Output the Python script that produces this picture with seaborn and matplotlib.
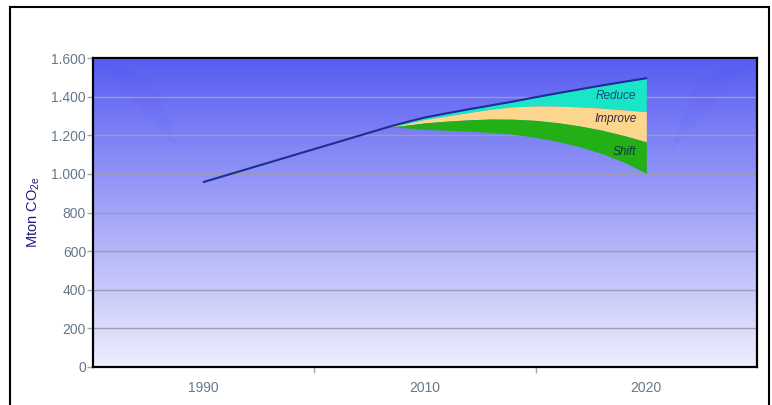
import numpy as np
import pandas as pd
import matplotlib
matplotlib.use("Agg")
import matplotlib.pyplot as plt
from matplotlib.patches import Rectangle, Polygon
from matplotlib.ticker import FuncFormatter
import seaborn as sns

# Emission path (Mton CO2e)
years_hist = [1990, 2007, 2008, 2009, 2010, 2011, 2012, 2013, 2014, 2015,
              2016, 2017, 2018, 2019, 2020]
baseline = [958, 1248, 1263, 1278, 1292, 1314, 1335, 1355, 1375, 1397,
            1418, 1438, 1458, 1477, 1495]

# Reduction wedges below the baseline path
years_wedge = [2007, 2008, 2009, 2010, 2011, 2012, 2013, 2014, 2015, 2016,
               2017, 2018, 2019, 2020]
wedge_top = [1248, 1263, 1278, 1292, 1314, 1335, 1355, 1375, 1397, 1418,
             1438, 1458, 1477, 1495]
reduce_low = [1246, 1256, 1269, 1282, 1300, 1318, 1335, 1347, 1352, 1351,
              1347, 1340, 1331, 1322]
improve_low = [1244, 1250, 1257, 1264, 1273, 1280, 1284, 1283, 1277, 1265,
               1248, 1226, 1198, 1166]
shift_low = [1243, 1239, 1235, 1230, 1226, 1221, 1214, 1205, 1189, 1168,
             1140, 1105, 1060, 1003]

wedge_names = ["Reduce", "Improve", "Shift"]
wedge_label_pos = [(2018.6, 1405), (2018.6, 1285), (2019.0, 1112)]

x_labels = [1990, 2010, 2020]
y_ticks = [0, 200, 400, 600, 800, 1000, 1200, 1400, 1600]

sns.set_theme(style="white")
plt.rcParams["font.family"] = ["Liberation Sans", "DejaVu Sans"]
plt.rcParams["mathtext.fontset"] = "custom"
plt.rcParams["mathtext.rm"] = "Liberation Sans"
plt.rcParams["mathtext.it"] = "Liberation Sans:italic"

fig = plt.figure(figsize=(7.72, 4.05), dpi=100)
fig.patch.set_facecolor("white")
ax = fig.add_axes([93 / 772, 38 / 405, 664 / 772, 309 / 405])

# vertical gradient background
grad = np.linspace(0, 1, 256)[:, None]
top_c = np.array([88, 92, 242]) / 255
bot_c = np.array([238, 238, 253]) / 255
img = top_c[None, None, :] * (1 - grad[:, :, None]) + bot_c[None, None, :] * grad[:, :, None]
img = np.repeat(img, 4, axis=1)
ax.imshow(img, extent=[0, 1, 0, 1], transform=ax.transAxes, aspect="auto",
          zorder=0, interpolation="bilinear")
# faint glare in the upper corners
ax.add_patch(Polygon([[0.0, 1.0], [0.09, 0.93], [0.13, 0.70]], closed=True,
                     transform=ax.transAxes, facecolor="#4a4af0", alpha=0.06,
                     edgecolor="none", zorder=0.5))
ax.add_patch(Polygon([[1.0, 1.0], [0.91, 0.93], [0.87, 0.70]], closed=True,
                     transform=ax.transAxes, facecolor="#4a4af0", alpha=0.06,
                     edgecolor="none", zorder=0.5))

for y in y_ticks[1:]:
    ax.axhline(y, color="#9c9cb6", lw=1.0, zorder=1)

wedge_colors = ["#18e6c6", "#fcd68c", "#22b016"]
bounds = [wedge_top, reduce_low, improve_low, shift_low]
for i, col in enumerate(wedge_colors):
    ax.fill_between(years_wedge, bounds[i + 1], bounds[i], color=col,
                    lw=0, zorder=2)

df = pd.DataFrame({"year": years_hist, "emission": baseline})
sns.lineplot(data=df, x="year", y="emission", ax=ax, color="#1e2c96",
             lw=1.5, estimator=None, sort=True, zorder=3)

text_colors = ["#1a4a7e", "#3a2a40", "#12324a"]
for name, (xx, yy), tc in zip(wedge_names, wedge_label_pos, text_colors):
    ax.text(xx, yy, name, ha="center", va="center", fontsize=8.5,
            style="italic", color=tc, zorder=4)

# category-style year axis: equal spacing between labelled years
bx = [1950, 1990, 2010, 2020, 2060]
bp = [-2, 0, 1, 2, 6]
ax.set_xscale("function", functions=(lambda v: np.interp(v, bx, bp),
                                     lambda v: np.interp(v, bp, bx)))
ax.set_xlim(1980, 2025)
ax.set_ylim(0, 1600)

ax.set_xticks(x_labels)
ax.set_xticklabels([str(v) for v in x_labels])
ax.set_xticks([2000, 2015], minor=True)
ax.tick_params(axis="x", which="major", length=0, pad=10, labelsize=10,
               labelcolor="#66788a")
ax.tick_params(axis="x", which="minor", bottom=True, length=4, width=1,
               color="#a0a8b0", direction="out")
ax.set_yticks(y_ticks)
ax.yaxis.set_major_formatter(FuncFormatter(lambda v, p: f"{int(v):,}".replace(",", ".")))
ax.tick_params(axis="y", which="major", left=True, length=4, width=1,
               color="#a0a8b0", direction="out", labelsize=10,
               labelcolor="#66788a", pad=1)

ax.set_xlabel("")
ax.set_ylabel(r"Mton CO$_{\mathrm{2e}}$", fontsize=10.5, color="#1c1c80")
ax.yaxis.set_label_coords(-51 / 664, 0.5)

for s in ax.spines.values():
    s.set_visible(True)
    s.set_color("black")
    s.set_linewidth(1.6)
    s.set_zorder(5)

# outer frame around the whole chart
fig.patches.append(Rectangle((10 / 772, -0.02), 759 / 772, 1 - 7 / 405 + 0.02,
                             transform=fig.transFigure, fill=False,
                             edgecolor="black", lw=1.5))

fig.savefig("out.png", dpi=100)
